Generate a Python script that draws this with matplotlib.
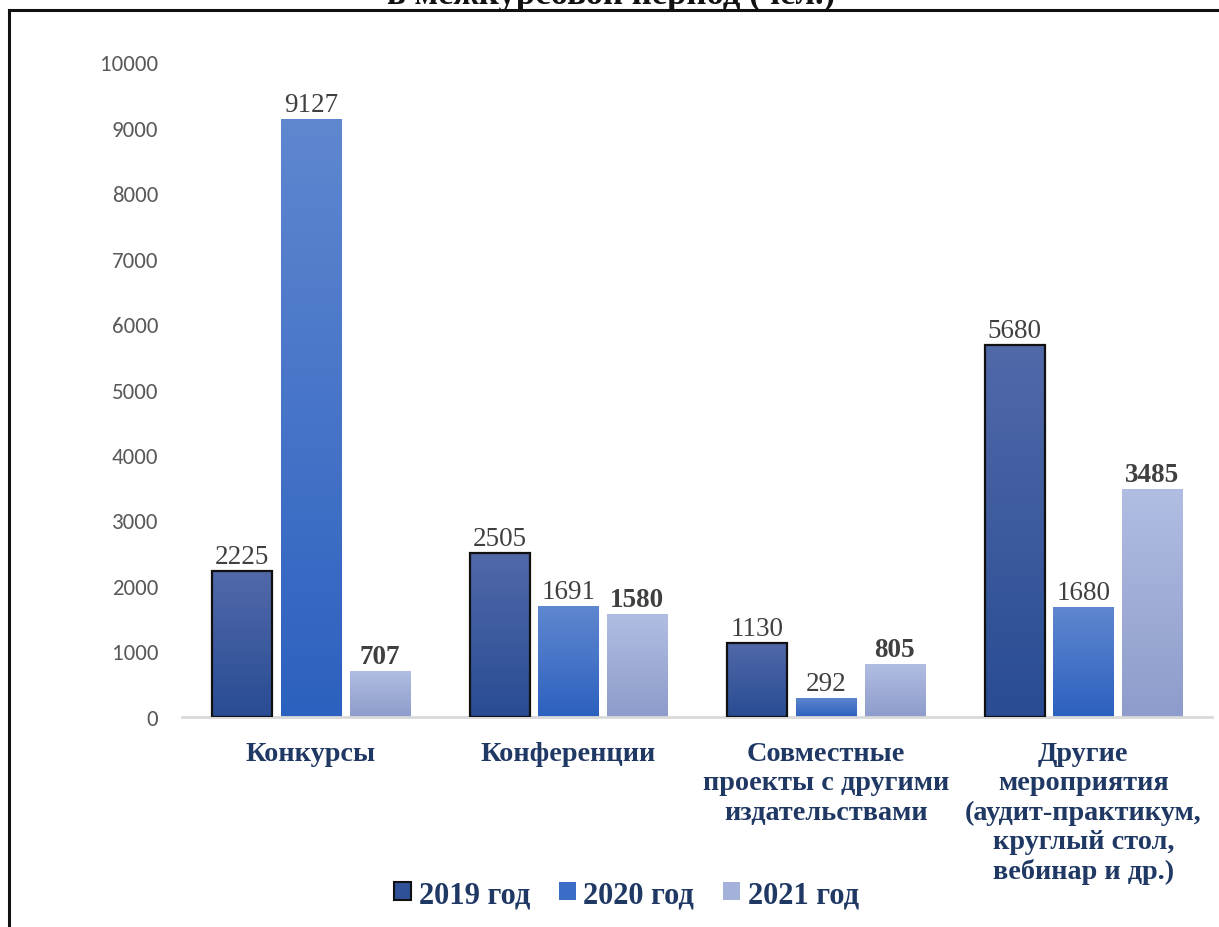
import matplotlib
matplotlib.use("Agg")
import matplotlib.pyplot as plt
import numpy as np
from matplotlib.colors import LinearSegmentedColormap
from matplotlib.patches import Patch

categories = ["Конкурсы", "Конференции", "Совместные\nпроекты с другими\nиздательствами",
              "Другие\nмероприятия\n(аудит-практикум,\nкруглый стол,\nвебинар и др.)"]
series_names = ["2019 год", "2020 год", "2021 год"]
v2019 = [2225, 2505, 1130, 5680]
v2020 = [9127, 1691, 292, 1680]
v2021 = [707, 1580, 805, 3485]
yticks = [0, 1000, 2000, 3000, 4000, 5000, 6000, 7000, 8000, 9000, 10000]
title = "в межкурсовой период (чел.)"

serif = ["Liberation Serif", "DejaVu Serif"]
navy = "#1f3864"

grad = [("#5169a9", "#294c93"), ("#5f87d0", "#2d61bf"), ("#b1bde2", "#8d9ccb")]
edges = ["#111111", "none", "none"]
legend_col = ["#2f5198", "#3b6cc6", "#a3b1db"]

fig = plt.figure(figsize=(12.19, 9.28), dpi=100)
ax = fig.add_axes([0.1493, 0.2263, 0.845, 0.7058])

x = np.arange(len(categories))
w = 0.233
step = 0.267
all_vals = [v2019, v2020, v2021]
for i, vals in enumerate(all_vals):
    bars = ax.bar(x + (i - 1) * step, vals, width=w, color="none",
                  edgecolor=edges[i], linewidth=1.6 if i == 0 else 0, zorder=3)
    cmap = LinearSegmentedColormap.from_list("g%d" % i, [grad[i][1], grad[i][0]])
    for b, v in zip(bars, vals):
        img = ax.imshow(np.linspace(0, 1, 100).reshape(-1, 1), cmap=cmap,
                        aspect="auto", origin="lower",
                        extent=[b.get_x(), b.get_x() + b.get_width(), 0, b.get_height()],
                        zorder=2)
        img.set_clip_path(b)
        ax.text(b.get_x() + b.get_width() / 2, v + 30, str(v), ha="center", va="bottom",
                fontsize=19.5, family=serif, color="#404040",
                fontweight="bold" if i == 2 else "normal", zorder=4)

ax.set_xlim(-0.5, 3.5)
ax.set_ylim(0, 10000)
ax.set_yticks(yticks)
ax.set_yticklabels([str(t) for t in yticks], fontsize=16.5, color="#595959",
                   family=["Carlito", "Liberation Sans", "DejaVu Sans"])
ax.set_xticks([])
for s in ["top", "right", "left"]:
    ax.spines[s].set_visible(False)
ax.spines["bottom"].set_color("#d9d9d9")
ax.spines["bottom"].set_linewidth(2)
ax.tick_params(axis="y", length=0, pad=17)

for xi, c in zip(x, categories):
    ax.text(xi, -370, c, ha="center", va="top", fontsize=20.3, family=serif,
            fontweight="bold", color=navy, linespacing=1.22, transform=ax.transData)

handles = [Patch(facecolor=legend_col[0], edgecolor="#111111", linewidth=1.5),
           Patch(facecolor=legend_col[1], edgecolor="none"),
           Patch(facecolor=legend_col[2], edgecolor="none")]
fig.legend(handles, series_names, loc="center", bbox_to_anchor=(0.514, 0.035),
           ncol=3, frameon=False, prop={"family": serif, "weight": "bold", "size": 22},
           handlelength=0.55, handleheight=0.55, handletextpad=0.25, columnspacing=0.95,
           labelcolor=navy)

fig.text(0.501, 1 - 4 / 928, title, ha="center", va="baseline", fontsize=25, family=serif,
         fontweight="bold", color="#111111")

fig.add_artist(plt.Line2D([9 / 1219, 1], [1 - 11 / 928, 1 - 11 / 928], color="#111111",
                          linewidth=2.2, transform=fig.transFigure))
fig.add_artist(plt.Line2D([9 / 1219, 9 / 1219], [0, 1 - 11 / 928], color="#111111",
                          linewidth=2.2, transform=fig.transFigure))

fig.savefig("out.png", dpi=100)
